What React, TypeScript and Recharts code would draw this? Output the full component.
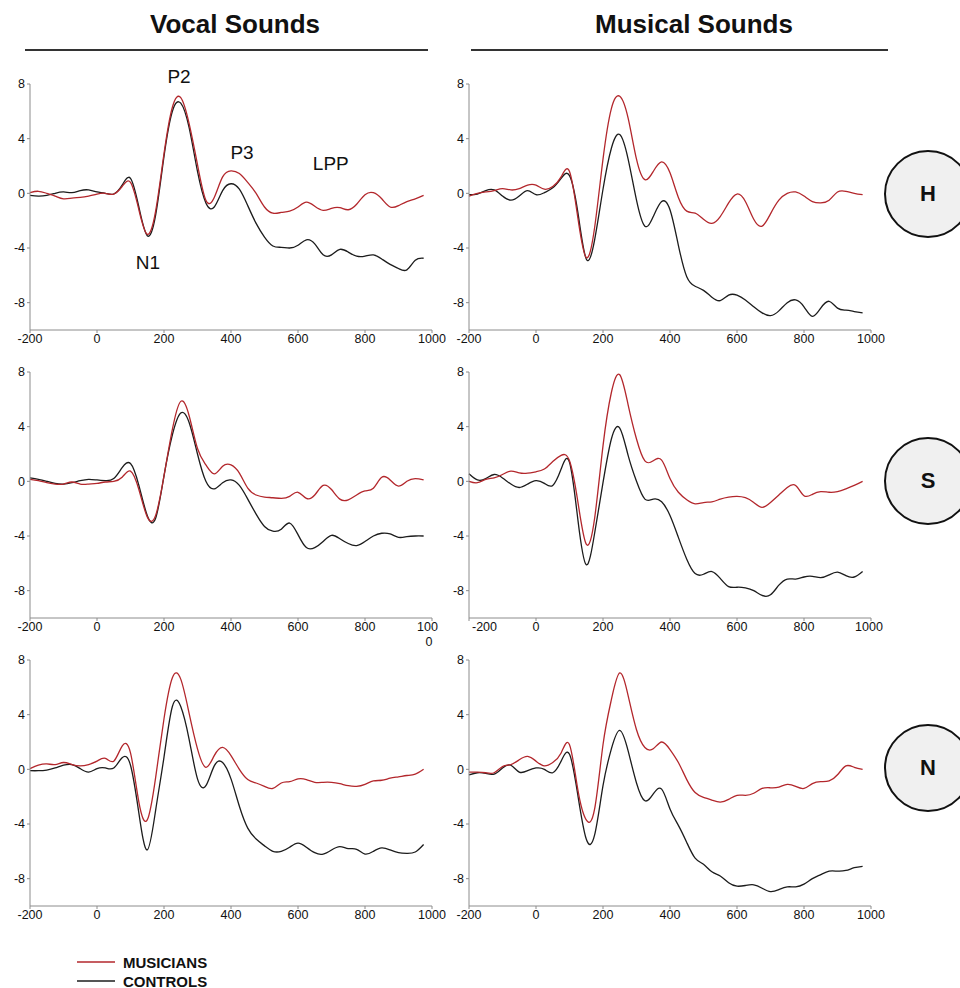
import { LineChart, Line, XAxis, YAxis, ReferenceDot } from "recharts";

// time grid in ms, shared by all six panels
const TIME = [
  -200, -175, -150, -125, -100, -75, -50, -25,
  0, 25, 50, 75, 100, 125, 150, 175,
  200, 225, 250, 275, 300, 325, 350, 375,
  400, 425, 450, 475, 500, 525, 550, 575,
  600, 625, 650, 675, 700, 725, 750, 775,
  800, 825, 850, 875, 900, 925, 950, 975,
];
const X_TICKS = [-200, 0, 200, 400, 600, 800, 1000];
const Y_TICKS = [-8, -4, 0, 4, 8];

// Vocal sounds, H
const VOCAL_H_MUS = [
  0.05, 0.15, 0.0, -0.2, -0.4, -0.35, -0.3, -0.2,
  -0.05, 0.0, -0.05, 0.5, 0.8, -1.2, -3.0, -1.3,
  2.9, 6.3, 7.0, 5.1, 2.1, -0.5, -0.3, 1.2,
  1.65, 1.45, 0.8, 0.0, -1.0, -1.45, -1.4, -1.3,
  -1.0, -0.65, -0.95, -1.25, -1.1, -1.05, -1.2, -0.8,
  -0.1, 0.05, -0.4, -1.0, -0.9, -0.6, -0.4, -0.15,
];
const VOCAL_H_CON = [
  -0.15, -0.2, -0.15, 0.0, 0.1, 0.05, 0.2, 0.25,
  0.1, 0.0, -0.05, 0.6, 1.1, -1.0, -3.1, -1.6,
  2.7, 6.0, 6.6, 4.8, 1.6, -0.7, -1.0, 0.2,
  0.7, 0.3, -0.9, -2.2, -3.2, -3.85, -3.95, -4.0,
  -3.8, -3.4, -3.7, -4.5, -4.5, -4.1, -4.3, -4.6,
  -4.6, -4.5, -4.8, -5.2, -5.5, -5.6, -4.9, -4.75,
];

// Musical sounds, H
const MUSIC_H_MUS = [
  -0.2, 0.0, 0.1, 0.2, 0.35, 0.25, 0.35, 0.6,
  0.6, 0.3, 0.5, 1.2, 1.6, -1.8, -4.7, -2.5,
  2.5, 6.2, 7.1, 5.5, 2.5, 1.0, 1.6, 2.3,
  1.5, -0.3, -1.3, -1.45, -1.9, -2.2, -1.7, -0.7,
  -0.05, -0.6, -1.9, -2.4, -1.5, -0.5, 0.0, 0.1,
  -0.2, -0.6, -0.7, -0.5, 0.1, 0.15, 0.0, -0.1,
];
const MUSIC_H_CON = [
  -0.1, -0.05, 0.2, 0.25, -0.2, -0.5, -0.2, 0.2,
  -0.1, 0.05, 0.4, 1.1, 1.3, -1.4, -4.8, -3.4,
  0.3, 3.3, 4.3, 2.5, -0.5, -2.4, -1.7, -0.6,
  -1.2, -3.8, -6.1, -6.8, -7.1, -7.6, -7.85, -7.45,
  -7.45, -7.8, -8.3, -8.75, -8.95, -8.6, -8.0, -7.8,
  -8.3, -9.0, -8.4, -7.9, -8.4, -8.55, -8.65, -8.75,
];

// Vocal sounds, S
const VOCAL_S_MUS = [
  0.15, 0.05, -0.1, -0.2, -0.2, -0.05, -0.2, -0.2,
  -0.15, -0.05, 0.0, 0.3, 0.75, -0.6, -2.6, -2.5,
  0.4, 3.8, 5.85, 4.8, 2.4, 1.2, 0.55, 1.1,
  1.2, 0.6, -0.5, -1.0, -1.15, -1.2, -1.25, -1.1,
  -0.8, -1.25, -1.0, -0.3, -0.6, -1.3, -1.35, -1.0,
  -0.7, -0.5, 0.3, 0.1, -0.35, 0.0, 0.2, 0.1,
];
const VOCAL_S_CON = [
  0.25, 0.15, 0.0, -0.15, -0.2, -0.1, 0.05, 0.15,
  0.1, 0.05, 0.2, 1.0, 1.3, -0.3, -2.5, -2.7,
  0.4, 3.4, 5.0, 4.3, 2.0, 0.0, -0.55, -0.1,
  0.1, -0.3, -1.3, -2.4, -3.3, -3.65, -3.5, -3.05,
  -3.9, -4.85, -4.85, -4.4, -3.95, -4.2, -4.55, -4.7,
  -4.4, -4.0, -3.8, -3.85, -4.1, -4.05, -4.0, -4.0,
];

// Musical sounds, S
const MUSIC_S_MUS = [
  0.0, -0.1, 0.15, 0.25, 0.5, 0.75, 0.62, 0.6,
  0.7, 0.9, 1.45, 1.9, 1.5, -1.5, -4.6, -2.7,
  2.6, 6.5, 7.8, 5.6, 3.1, 1.5, 1.5, 1.55,
  0.2, -0.8, -1.35, -1.65, -1.55, -1.5, -1.3, -1.15,
  -1.1, -1.2, -1.55, -1.9, -1.55, -1.0, -0.45, -0.3,
  -1.05, -0.95, -0.75, -0.8, -0.75, -0.55, -0.3, 0.0,
];
const MUSIC_S_CON = [
  0.55, 0.1, 0.2, 0.5, 0.25, -0.2, -0.45, -0.2,
  0.05, -0.15, -0.3, 0.9, 1.4, -2.8, -6.1, -3.8,
  -0.1, 3.1, 3.9, 1.9, 0.0, -1.3, -1.3, -1.5,
  -2.5, -4.1, -5.7, -6.75, -6.8, -6.6, -7.1, -7.7,
  -7.75, -7.8, -8.0, -8.35, -8.3, -7.6, -7.15, -7.15,
  -7.0, -6.95, -7.05, -6.85, -6.65, -6.9, -7.0, -6.6,
];

// Vocal sounds, N
const VOCAL_N_MUS = [
  0.05, 0.3, 0.4, 0.35, 0.5, 0.35, 0.25, 0.35,
  0.6, 0.8, 0.6, 1.7, 1.2, -2.4, -3.7, -0.6,
  3.7, 6.7, 6.6, 4.1, 1.5, 0.15, 1.0, 1.6,
  1.0, 0.0, -0.75, -1.0, -1.25, -1.4, -1.0, -0.9,
  -0.7, -0.75, -0.95, -0.95, -0.95, -1.05, -1.2, -1.25,
  -1.1, -0.85, -0.8, -0.65, -0.55, -0.45, -0.35, 0.0,
];
const VOCAL_N_CON = [
  -0.1, -0.1, -0.05, 0.1, 0.3, 0.35, 0.05, -0.2,
  0.05, 0.1, 0.1, 0.85, 0.3, -3.2, -5.9, -3.0,
  0.9, 4.6, 4.6, 2.2, -0.7, -1.2, 0.25, 0.5,
  -0.7, -2.7, -4.3, -5.1, -5.6, -6.0, -6.0, -5.7,
  -5.4, -5.7, -6.1, -6.2, -5.9, -5.65, -5.8, -5.85,
  -6.2, -6.0, -5.75, -5.9, -6.1, -6.15, -6.05, -5.5,
];

// Musical sounds, N
const MUSIC_N_MUS = [
  -0.2, -0.2, -0.25, -0.25, 0.2, 0.35, 0.7, 0.95,
  0.6, 0.25, 0.5, 1.2, 1.8, -1.5, -3.7, -2.9,
  1.8, 5.1, 7.05, 5.4, 2.9, 1.6, 1.5, 2.0,
  1.45, 0.5, -0.75, -1.7, -2.05, -2.25, -2.4, -2.2,
  -1.9, -1.9, -1.75, -1.4, -1.35, -1.3, -1.1, -1.25,
  -1.4, -1.05, -0.9, -0.85, -0.4, 0.25, 0.15, 0.0,
];
const MUSIC_N_CON = [
  -0.4, -0.25, -0.3, -0.35, 0.1, 0.3, -0.2, -0.1,
  0.1, 0.0, -0.25, 0.6, 1.1, -1.9, -5.1, -4.8,
  -1.2, 1.5, 2.85, 1.35, -1.0, -2.3, -1.8, -1.45,
  -2.9, -4.1, -5.35, -6.5, -6.95, -7.5, -7.8, -8.3,
  -8.55, -8.5, -8.45, -8.7, -8.95, -8.8, -8.6, -8.6,
  -8.4, -8.0, -7.7, -7.45, -7.45, -7.4, -7.2, -7.1,
];

const FONT = "'Liberation Sans', Arial, Helvetica, sans-serif";
const RED = "#b3272c";
const BLACK = "#1c1c1c";
const AXIS = "#8c8c8c";
const TICK_FS = 12.5;
const TICK_STYLE = { fontSize: TICK_FS, fill: "#111", fontFamily: FONT };

// the "1000" label that wraps onto two lines in the middle-left panel
function wrappedEndTick(props: any) {
  const { x, y, payload } = props;
  if (payload.value === 1000) {
    return (
      <text x={x} y={y} fontSize={TICK_FS} fill="#111" fontFamily={FONT}>
        <tspan x={x - 13} dy="0.71em" textAnchor="start">100</tspan>
        <tspan x={x - 1} dy="1.2em" textAnchor="middle">0</tspan>
      </text>
    );
  }
  return (
    <text x={x} y={y} dy="0.71em" textAnchor="middle" fontSize={TICK_FS} fill="#111" fontFamily={FONT}>
      {payload.value}
    </text>
  );
}

// "-200" pushed to the right of the axis in the middle-right panel
function shiftedStartTick(props: any) {
  const { x, y, payload } = props;
  const first = payload.value === -200;
  return (
    <text
      x={first ? x + 3 : x}
      y={y}
      dy="0.71em"
      textAnchor={first ? "start" : "middle"}
      fontSize={TICK_FS}
      fill="#111"
      fontFamily={FONT}
    >
      {payload.value}
    </text>
  );
}

interface PanelProps {
  left: number;
  top: number;
  mus: number[];
  con: number[];
  tick?: any;
  children?: React.ReactNode;
}

// top is the y of the "8" gridline; the svg starts 30px above it to leave room for labels
function Panel({ left, top, mus, con, tick, children }: PanelProps) {
  const rows = TIME.map((t, i) => ({ t, mus: mus[i], con: con[i] }));
  return (
    <div style={{ position: "absolute", left, top: top - 30 }}>
      <LineChart width={446} height={306} data={rows} margin={{ top: 30, right: 14, bottom: 0, left: 0 }}>
        <XAxis
          dataKey="t"
          type="number"
          domain={[-200, 1000]}
          ticks={X_TICKS}
          height={30}
          stroke={AXIS}
          tickSize={3}
          tickMargin={1}
          tick={tick ?? TICK_STYLE}
        />
        <YAxis
          type="number"
          domain={[-10, 8]}
          ticks={Y_TICKS}
          width={30}
          stroke={AXIS}
          tickSize={3}
          tickMargin={2}
          tick={TICK_STYLE}
        />
        <Line type="natural" dataKey="con" stroke={BLACK} strokeWidth={1.3} dot={false} isAnimationActive={false} />
        <Line type="natural" dataKey="mus" stroke={RED} strokeWidth={1.3} dot={false} isAnimationActive={false} />
        {children}
      </LineChart>
    </div>
  );
}

function peakLabel(x: number, y: number, text: string) {
  return (
    <ReferenceDot
      key={text}
      x={x}
      y={y}
      r={0}
      fill="none"
      stroke="none"
      ifOverflow="visible"
      label={{ value: text, position: "center", fontSize: 19, fill: "#111", fontFamily: FONT }}
    />
  );
}

function Badge({ top, letter }: { top: number; letter: string }) {
  return (
    <div
      style={{
        position: "absolute",
        left: 884,
        top: top - 44,
        width: 84,
        height: 84,
        borderRadius: "50%",
        border: "2px solid #111",
        background: "#f0f0f0",
        display: "flex",
        alignItems: "center",
        justifyContent: "center",
        fontFamily: FONT,
        fontWeight: 700,
        fontSize: 22,
        color: "#111",
      }}
    >
      {letter}
    </div>
  );
}

export default function App() {
  return (
    <div
      style={{
        position: "absolute",
        left: 0,
        top: 0,
        width: 960,
        height: 988,
        overflow: "hidden",
        background: "#fff",
        fontFamily: FONT,
      }}
    >
      <svg width={960} height={60} style={{ position: "absolute", left: 0, top: 0 }}>
        <text x={235} y={33} textAnchor="middle" fontSize={26} fontWeight={700} fill="#111" fontFamily={FONT}>
          Vocal Sounds
        </text>
        <text x={694} y={33} textAnchor="middle" fontSize={26} fontWeight={700} fill="#111" fontFamily={FONT}>
          Musical Sounds
        </text>
        <line x1={25} x2={428} y1={50} y2={50} stroke="#333" strokeWidth={2} />
        <line x1={471} x2={888} y1={50} y2={50} stroke="#333" strokeWidth={2} />
      </svg>

      <Panel left={0} top={84} mus={VOCAL_H_MUS} con={VOCAL_H_CON}>
        {peakLabel(245, 8.6, "P2")}
        {peakLabel(152, -5.05, "N1")}
        {peakLabel(433, 3.0, "P3")}
        {peakLabel(698, 2.2, "LPP")}
      </Panel>
      <Panel left={439} top={84} mus={MUSIC_H_MUS} con={MUSIC_H_CON} />

      <Panel left={0} top={372} mus={VOCAL_S_MUS} con={VOCAL_S_CON} tick={wrappedEndTick} />
      <Panel left={439} top={372} mus={MUSIC_S_MUS} con={MUSIC_S_CON} tick={shiftedStartTick} />

      <Panel left={0} top={660} mus={VOCAL_N_MUS} con={VOCAL_N_CON} />
      <Panel left={439} top={660} mus={MUSIC_N_MUS} con={MUSIC_N_CON} />

      <Badge top={194} letter="H" />
      <Badge top={481} letter="S" />
      <Badge top={768} letter="N" />

      <svg width={300} height={45} style={{ position: "absolute", left: 0, top: 945 }}>
        <line x1={77} x2={115} y1={17} y2={17} stroke={RED} strokeWidth={1.5} />
        <text x={123} y={17} dominantBaseline="central" fontSize={15} fontWeight={700} fill="#111" fontFamily={FONT}>
          MUSICIANS
        </text>
        <line x1={77} x2={115} y1={36} y2={36} stroke={BLACK} strokeWidth={1.5} />
        <text x={123} y={36} dominantBaseline="central" fontSize={15} fontWeight={700} fill="#111" fontFamily={FONT}>
          CONTROLS
        </text>
      </svg>
    </div>
  );
}
